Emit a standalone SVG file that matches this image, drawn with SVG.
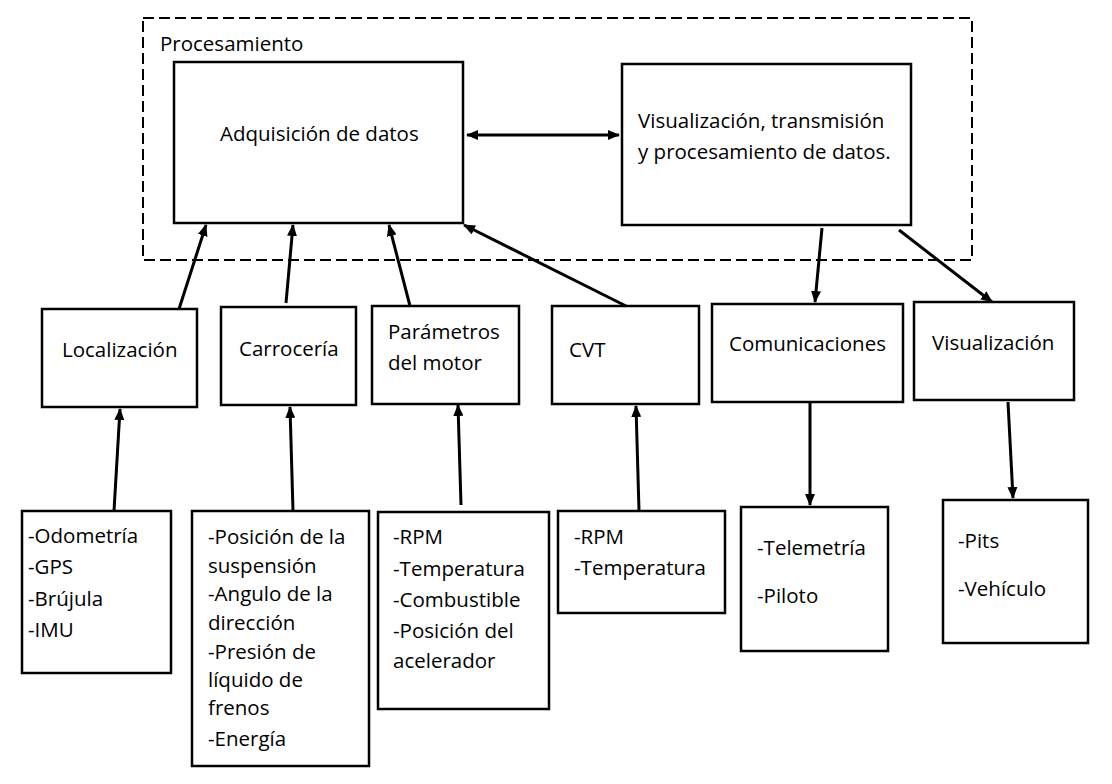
<svg xmlns="http://www.w3.org/2000/svg" width="1112" height="784" viewBox="0 0 1112 784">
<style>
.box{fill:#fff;stroke:#000;stroke-width:2.5}
.dash{fill:none;stroke:#000;stroke-width:2;stroke-dasharray:11 5}
text{font-family:"Open Sans","Noto Sans",sans-serif;font-size:20.5px;fill:#000}
.c line{stroke:#000;stroke-width:3}
</style>
<defs>
<marker id="ah" viewBox="0 0 12 10" refX="11" refY="5" markerWidth="4" markerHeight="3.4" orient="auto" markerUnits="strokeWidth">
<path d="M0,0 L12,5 L0,10 z" fill="#000"/>
</marker>
<marker id="as" viewBox="0 0 12 10" refX="1" refY="5" markerWidth="4" markerHeight="3.4" orient="auto" markerUnits="strokeWidth">
<path d="M12,0 L0,5 L12,10 z" fill="#000"/>
</marker>
</defs>
<rect width="1112" height="784" fill="#fff"/>
<g id="procesamiento">
<rect class="dash" x="143" y="18" width="829" height="242"/>
<text x="160" y="51">Procesamiento</text>
</g>
<g id="adquisicion">
<rect class="box" x="174" y="62" width="289" height="161"/>
<text x="220" y="141">Adquisición de datos</text>
</g>
<g id="visualizacion-proc">
<rect class="box" x="622" y="64" width="289" height="161"/>
<text x="638" y="128">Visualización, transmisión</text>
<text x="638" y="159">y procesamiento de datos.</text>
</g>
<g id="localizacion">
<rect class="box" x="42" y="309" width="155" height="98"/>
<text x="62" y="357">Localización</text>
</g>
<g id="carroceria">
<rect class="box" x="221" y="307" width="135" height="98"/>
<text x="239" y="356">Carrocería</text>
</g>
<g id="parametros">
<rect class="box" x="372" y="306" width="147" height="98"/>
<text x="388" y="339">Parámetros</text>
<text x="388" y="370">del motor</text>
</g>
<g id="cvt">
<rect class="box" x="552" y="306" width="147" height="98"/>
<text x="569" y="357">CVT</text>
</g>
<g id="comunicaciones">
<rect class="box" x="712" y="304" width="191" height="98"/>
<text x="729" y="351">Comunicaciones</text>
</g>
<g id="visualizacion">
<rect class="box" x="914" y="302" width="160" height="98"/>
<text x="932" y="350">Visualización</text>
</g>
<g id="loc-items">
<rect class="box" x="22" y="511" width="149" height="162"/>
<text x="28" y="543">-Odometría</text>
<text x="28" y="574">-GPS</text>
<text x="28" y="606">-Brújula</text>
<text x="28" y="637">-IMU</text>
</g>
<g id="carr-items">
<rect class="box" x="192" y="511" width="177" height="255"/>
<text x="208" y="544">-Posición de la</text>
<text x="208" y="573">suspensión</text>
<text x="208" y="601">-Angulo de la</text>
<text x="208" y="630">dirección</text>
<text x="208" y="659">-Presión de</text>
<text x="208" y="687">líquido de</text>
<text x="208" y="715">frenos</text>
<text x="208" y="746">-Energía</text>
</g>
<g id="motor-items">
<rect class="box" x="378" y="512" width="171" height="197"/>
<text x="393" y="544">-RPM</text>
<text x="393" y="576">-Temperatura</text>
<text x="393" y="607">-Combustible</text>
<text x="393" y="638">-Posición del</text>
<text x="393" y="668">acelerador</text>
</g>
<g id="cvt-items">
<rect class="box" x="558" y="511" width="167" height="102"/>
<text x="574" y="544">-RPM</text>
<text x="574" y="575">-Temperatura</text>
</g>
<g id="com-items">
<rect class="box" x="741" y="507" width="147" height="144"/>
<text x="757" y="555">-Telemetría</text>
<text x="757" y="603">-Piloto</text>
</g>
<g id="vis-items">
<rect class="box" x="943" y="500" width="145" height="143"/>
<text x="958" y="548">-Pits</text>
<text x="958" y="596">-Vehículo</text>
</g>
<g id="connectors" class="c">
<line x1="467" y1="135" x2="619" y2="135" marker-start="url(#as)" marker-end="url(#ah)"/>
<line x1="179" y1="309" x2="206" y2="225" marker-end="url(#ah)"/>
<line x1="286" y1="303" x2="293" y2="225" marker-end="url(#ah)"/>
<line x1="410" y1="306" x2="389" y2="225" marker-end="url(#ah)"/>
<line x1="626" y1="306" x2="464" y2="225" marker-end="url(#ah)"/>
<line x1="822" y1="228" x2="815" y2="302" marker-end="url(#ah)"/>
<line x1="899" y1="230" x2="992" y2="302" marker-end="url(#ah)"/>
<line x1="114" y1="511" x2="120" y2="409" marker-end="url(#ah)"/>
<line x1="293" y1="511" x2="290" y2="407" marker-end="url(#ah)"/>
<line x1="461" y1="505" x2="458" y2="405" marker-end="url(#ah)"/>
<line x1="639" y1="511" x2="636" y2="406" marker-end="url(#ah)"/>
<line x1="810" y1="403" x2="810" y2="505" marker-end="url(#ah)"/>
<line x1="1008" y1="402" x2="1013" y2="498" marker-end="url(#ah)"/>
</g>
</svg>
